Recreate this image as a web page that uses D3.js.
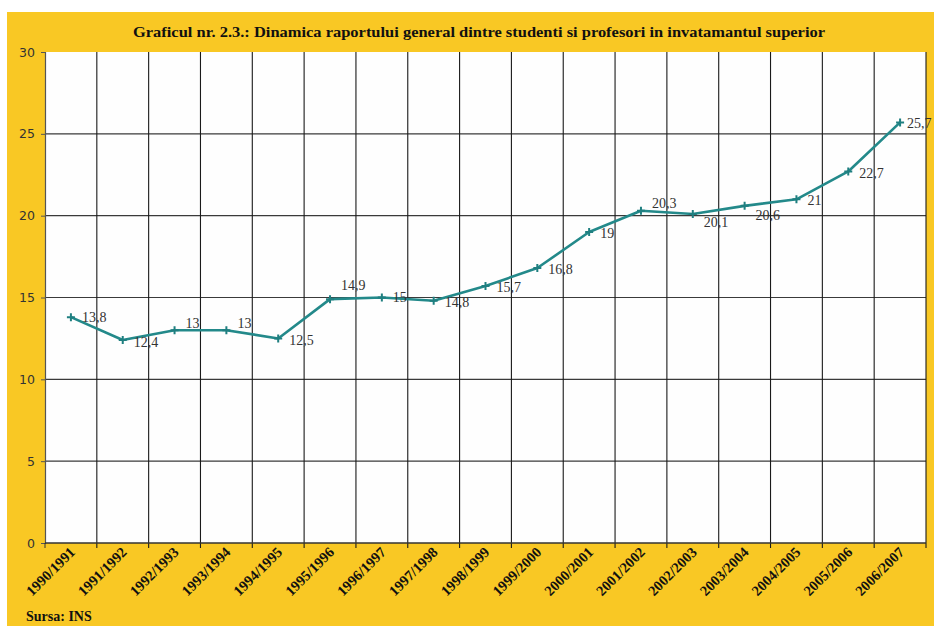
<!DOCTYPE html>
<html>
<head>
<meta charset="utf-8">
<script src="https://cdn.jsdelivr.net/npm/d3@7"></script>
<style>
  html, body { margin: 0; padding: 0; background: #fff; }
  svg { display: block; }
</style>
</head>
<body>
<svg id="chart" width="934" height="626"></svg>
<script>
// Academic years and the student / teacher ratio in higher education
const years = ["1990/1991","1991/1992","1992/1993","1993/1994","1994/1995","1995/1996",
  "1996/1997","1997/1998","1998/1999","1999/2000","2000/2001","2001/2002","2002/2003",
  "2003/2004","2004/2005","2005/2006","2006/2007"];
const ratio = [13.8, 12.4, 13, 13, 12.5, 14.9, 15, 14.8, 15.7, 16.8, 19, 20.3, 20.1, 20.6, 21, 22.7, 25.7];
const yTicks = [0, 5, 10, 15, 20, 25, 30];
const titleText = "Graficul nr. 2.3.: Dinamica raportului general dintre studenti si profesori in invatamantul superior";
const sourceText = "Sursa: INS";

const SERIF = "'Liberation Serif', 'Times New Roman', serif";
const svg = d3.select("#chart");
const W = 934, H = 626;
const plot = { left: 45, right: 926, top: 52, bottom: 543 };

// yellow frame
svg.append("rect").attr("x", 7).attr("y", 12).attr("width", W - 7).attr("height", H - 12)
  .attr("fill", "#F9C824");

// plot area
svg.append("rect").attr("x", plot.left).attr("y", plot.top)
  .attr("width", plot.right - plot.left).attr("height", plot.bottom - plot.top)
  .attr("fill", "#fefefe");

const x = d3.scaleBand().domain(years).range([plot.left, plot.right]).paddingInner(0).paddingOuter(0);
const y = d3.scaleLinear().domain([0, 30]).range([plot.bottom, plot.top]);

// horizontal gridlines
svg.append("g").selectAll("line").data(yTicks.filter(t => t > 0 && t < 30)).join("line")
  .attr("x1", plot.left).attr("x2", plot.right)
  .attr("y1", d => y(d)).attr("y2", d => y(d))
  .attr("stroke", "#3a3a3a").attr("stroke-width", 1.2);

// vertical gridlines at category boundaries
const bounds = years.map(d => x(d)).concat([plot.right]);
svg.append("g").selectAll("line").data(bounds.slice(1)).join("line")
  .attr("x1", d => d).attr("x2", d => d)
  .attr("y1", plot.top).attr("y2", plot.bottom + 5)
  .attr("stroke", "#1a1a1a").attr("stroke-width", 1.1);

// y axis
const yAxis = d3.axisLeft(y).tickValues(yTicks).tickSize(4).tickPadding(6);
const gy = svg.append("g").attr("transform", `translate(${plot.left},0)`).call(yAxis);
gy.select(".domain").attr("stroke", "#555").attr("stroke-width", 1.2);
gy.selectAll(".tick line").attr("stroke", "#555");
gy.selectAll(".tick text").attr("font-family", "'DejaVu Sans', sans-serif")
  .attr("font-size", 12.5).attr("fill", "#333");

// x axis baseline
svg.append("line").attr("x1", plot.left).attr("x2", plot.right)
  .attr("y1", plot.bottom).attr("y2", plot.bottom)
  .attr("stroke", "#333").attr("stroke-width", 1.4);
svg.append("line").attr("x1", plot.left).attr("x2", plot.left)
  .attr("y1", plot.bottom).attr("y2", plot.bottom + 5).attr("stroke", "#333");

// x labels, rotated
svg.append("g").selectAll("text").data(years).join("text")
  .attr("transform", d => `translate(${x(d) + x.bandwidth() / 2 + 5},${plot.bottom + 10}) rotate(-45)`)
  .attr("text-anchor", "end")
  .attr("font-family", SERIF).attr("font-weight", "bold")
  .attr("font-size", 14.5).attr("fill", "#111")
  .text(d => d);

// line
const cx = d => x(d) + x.bandwidth() / 2;
const pts = years.map((d, i) => [cx(d), y(ratio[i])]);
svg.append("path").attr("d", d3.line()(pts))
  .attr("fill", "none").attr("stroke", "#23898A").attr("stroke-width", 2.6)
  .attr("stroke-linejoin", "round");

// plus markers
const mk = svg.append("g");
pts.forEach(([px, py]) => {
  mk.append("path").attr("d", `M${px - 4},${py}H${px + 4}M${px},${py - 4}V${py + 4}`)
    .attr("stroke", "#1f7f80").attr("stroke-width", 2);
});

// value labels (nudges keep them off the line and inside the frame)
const labelDy = [0, 2, -7, -7, 2, -14, 0, 1, 1, 1, 1, -8, 8, 9, 1, 2, 1];
const labelDx = ratio.map((d, i) => i === ratio.length - 1 ? 7 : 11);
svg.append("g").selectAll("text").data(ratio).join("text")
  .attr("x", (d, i) => pts[i][0] + labelDx[i])
  .attr("y", (d, i) => pts[i][1] + labelDy[i])
  .attr("dy", "0.35em")
  .attr("font-family", SERIF).attr("font-size", 14).attr("fill", "#333")
  .text(d => String(d).replace(".", ","));

// title
svg.append("text").attr("x", 133).attr("y", 37)
  .attr("textLength", 692).attr("lengthAdjust", "spacingAndGlyphs")
  .attr("font-family", SERIF).attr("font-weight", "bold")
  .attr("font-size", 15.5).attr("fill", "#111")
  .text(titleText);

// source
svg.append("text").attr("x", 26).attr("y", 621)
  .attr("font-family", SERIF).attr("font-weight", "bold")
  .attr("font-size", 14).attr("fill", "#111")
  .text(sourceText);
</script>
</body>
</html>
